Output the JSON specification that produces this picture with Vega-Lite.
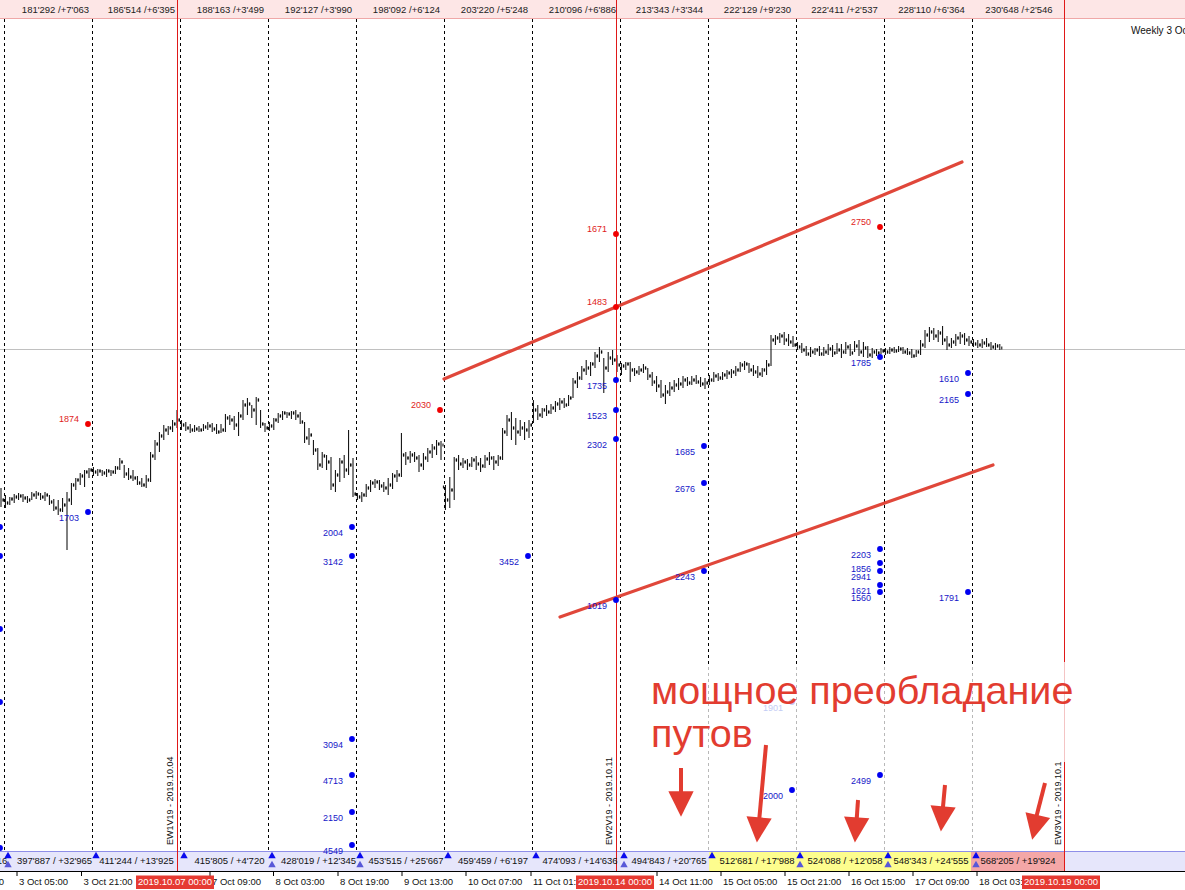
{
"$schema":"https://vega.github.io/schema/vega-lite/v6.json",
"width":1185,"height":890,"padding":0,"autosize":{"type":"none"},
"background":"#ffffff",
"config":{"view":{"stroke":null},"axis":{"disable":true},"text":{"font":"Liberation Sans"}},
"datasets":{
"bands":[
{"x":0,"x2":1185,"y":0,"y2":18.5,"kind":"top"},
{"x":0,"x2":1185,"y":851,"y2":871,"kind":"strip"},
{"x":709,"x2":971,"y":851,"y2":871,"kind":"yellow"},
{"x":971,"x2":1064,"y":851,"y2":871,"kind":"pink"}
],
"hlines":[
{"x":0,"x2":1185,"y":18.5,"kind":"topb"},
{"x":0,"x2":1185,"y":851.5,"kind":"stripb"},
{"x":0,"x2":1185,"y":871.5,"kind":"axis"},
{"x":0,"x2":1185,"y":349.5,"kind":"price"}
],
"dashed":[
{"x":4.5,"y":19,"y2":851},{"x":92.5,"y":19,"y2":851},{"x":180.5,"y":19,"y2":851},{"x":268.5,"y":19,"y2":851},
{"x":356.5,"y":19,"y2":851},{"x":444.5,"y":19,"y2":851},{"x":532.5,"y":19,"y2":851},{"x":620.5,"y":19,"y2":851},
{"x":708.5,"y":19,"y2":851},{"x":796.5,"y":19,"y2":851},{"x":884.5,"y":19,"y2":851},{"x":972.5,"y":19,"y2":851}
],
"redlines":[
{"x":177.5,"y":0,"y2":871,"kind":"main"},
{"x":616.5,"y":0,"y2":871,"kind":"main"},
{"x":1064.5,"y":0,"y2":662,"kind":"main"},
{"x":1064.5,"y":662,"y2":762,"kind":"faint"},
{"x":1064.5,"y":762,"y2":871,"kind":"main"}
],
"veil":[{"x":640,"x2":1063,"y":666,"y2":851}],
"trend":[
{"x":444,"y":379,"x2":962,"y2":162},
{"x":560,"y":617,"x2":993,"y2":465}
],
"bars":[
{"x":1,"h":488,"l":507,"o":495,"c":500},{"x":5.4,"h":495,"l":508,"o":500,"c":503},{"x":9.8,"h":497,"l":505,"o":503,"c":499},{"x":14.2,"h":494,"l":503,"o":499,"c":497},
{"x":18.6,"h":493,"l":500,"o":497,"c":496},{"x":23,"h":494,"l":502,"o":496,"c":498},{"x":27.4,"h":496,"l":503,"o":498,"c":500},{"x":31.8,"h":492,"l":500,"o":500,"c":495},
{"x":36.2,"h":491,"l":499,"o":495,"c":494},{"x":40.6,"h":493,"l":500,"o":494,"c":497},{"x":45,"h":492,"l":501,"o":497,"c":495},{"x":49.4,"h":495,"l":505,"o":495,"c":502},
{"x":53.8,"h":499,"l":511,"o":502,"c":508},{"x":58.2,"h":500,"l":515,"o":508,"c":510},{"x":62.6,"h":498,"l":512,"o":510,"c":505},{"x":67,"h":492,"l":550,"o":505,"c":500},
{"x":71.4,"h":483,"l":505,"o":500,"c":485},{"x":75.8,"h":478,"l":490,"o":485,"c":480},{"x":80.2,"h":473,"l":485,"o":480,"c":476},{"x":84.6,"h":470,"l":487,"o":476,"c":472},
{"x":89,"h":468,"l":478,"o":472,"c":470},{"x":93.4,"h":467,"l":476,"o":470,"c":472},{"x":97.8,"h":469,"l":476,"o":472,"c":471},{"x":102.2,"h":470,"l":476,"o":471,"c":473},
{"x":106.6,"h":469,"l":477,"o":473,"c":471},{"x":111,"h":470,"l":476,"o":471,"c":472},{"x":115.4,"h":466,"l":474,"o":472,"c":468},{"x":119.8,"h":458,"l":470,"o":468,"c":462},
{"x":124.2,"h":465,"l":478,"o":462,"c":474},{"x":128.6,"h":468,"l":480,"o":474,"c":477},{"x":133,"h":470,"l":481,"o":477,"c":478},{"x":137.4,"h":476,"l":485,"o":478,"c":483},
{"x":141.8,"h":478,"l":487,"o":483,"c":485},{"x":146.2,"h":475,"l":488,"o":485,"c":480},{"x":150.6,"h":452,"l":482,"o":480,"c":456},{"x":155,"h":440,"l":460,"o":456,"c":444},
{"x":159.4,"h":432,"l":452,"o":444,"c":436},{"x":163.8,"h":425,"l":440,"o":436,"c":430},{"x":168.2,"h":426,"l":435,"o":430,"c":428},{"x":172.6,"h":420,"l":432,"o":428,"c":424},
{"x":177,"h":410,"l":428,"o":424,"c":420},{"x":181.4,"h":420,"l":430,"o":420,"c":425},{"x":185.8,"h":422,"l":431,"o":425,"c":428},{"x":190.2,"h":424,"l":433,"o":428,"c":430},
{"x":194.6,"h":425,"l":432,"o":430,"c":429},{"x":199,"h":426,"l":432,"o":429,"c":430},{"x":203.4,"h":424,"l":431,"o":430,"c":427},{"x":207.8,"h":422,"l":430,"o":427,"c":426},
{"x":212.2,"h":423,"l":432,"o":426,"c":429},{"x":216.6,"h":424,"l":434,"o":429,"c":432},{"x":221,"h":424,"l":433,"o":432,"c":430},{"x":225.4,"h":414,"l":432,"o":430,"c":418},
{"x":229.8,"h":415,"l":425,"o":418,"c":420},{"x":234.2,"h":416,"l":430,"o":420,"c":425},{"x":238.6,"h":412,"l":436,"o":425,"c":416},{"x":243,"h":400,"l":420,"o":416,"c":405},
{"x":247.4,"h":398,"l":415,"o":405,"c":404},{"x":251.8,"h":405,"l":418,"o":404,"c":410},{"x":256.2,"h":397,"l":425,"o":410,"c":400},{"x":260.6,"h":410,"l":428,"o":400,"c":424},
{"x":265,"h":423,"l":432,"o":424,"c":428},{"x":269.4,"h":422,"l":431,"o":428,"c":426},{"x":273.8,"h":418,"l":430,"o":426,"c":420},{"x":278.2,"h":413,"l":423,"o":420,"c":416},
{"x":282.6,"h":411,"l":420,"o":416,"c":413},{"x":287,"h":412,"l":418,"o":413,"c":414},{"x":291.4,"h":411,"l":419,"o":414,"c":413},{"x":295.8,"h":410,"l":420,"o":413,"c":416},
{"x":300.2,"h":412,"l":424,"o":416,"c":422},{"x":304.6,"h":422,"l":443,"o":422,"c":438},{"x":309,"h":428,"l":445,"o":438,"c":435},{"x":313.4,"h":440,"l":455,"o":435,"c":450},
{"x":317.8,"h":448,"l":470,"o":450,"c":465},{"x":322.2,"h":452,"l":468,"o":465,"c":456},{"x":326.6,"h":455,"l":470,"o":456,"c":462},{"x":331,"h":457,"l":490,"o":462,"c":485},
{"x":335.4,"h":470,"l":492,"o":485,"c":475},{"x":339.8,"h":458,"l":482,"o":475,"c":462},{"x":344.2,"h":455,"l":478,"o":462,"c":470},{"x":348.6,"h":430,"l":475,"o":470,"c":465},
{"x":353,"h":458,"l":497,"o":465,"c":494},{"x":357.4,"h":493,"l":500,"o":494,"c":497},{"x":361.8,"h":492,"l":502,"o":497,"c":495},{"x":366.2,"h":484,"l":497,"o":495,"c":488},
{"x":370.6,"h":480,"l":492,"o":488,"c":483},{"x":375,"h":479,"l":488,"o":483,"c":482},{"x":379.4,"h":480,"l":490,"o":482,"c":486},{"x":383.8,"h":482,"l":492,"o":486,"c":488},
{"x":388.2,"h":478,"l":495,"o":488,"c":485},{"x":392.6,"h":473,"l":489,"o":485,"c":476},{"x":397,"h":470,"l":482,"o":476,"c":475},{"x":401.4,"h":433,"l":477,"o":475,"c":455},
{"x":405.8,"h":452,"l":465,"o":455,"c":458},{"x":410.2,"h":451,"l":463,"o":458,"c":455},{"x":414.6,"h":452,"l":462,"o":455,"c":458},{"x":419,"h":455,"l":472,"o":458,"c":465},
{"x":423.4,"h":453,"l":470,"o":465,"c":458},{"x":427.8,"h":448,"l":462,"o":458,"c":452},{"x":432.2,"h":444,"l":458,"o":452,"c":448},{"x":436.6,"h":440,"l":455,"o":448,"c":444},
{"x":441,"h":441,"l":460,"o":444,"c":445},{"x":445.4,"h":485,"l":510,"o":487,"c":500},{"x":449.8,"h":477,"l":508,"o":500,"c":490},{"x":454.2,"h":457,"l":500,"o":490,"c":460},
{"x":458.6,"h":455,"l":470,"o":460,"c":464},{"x":463,"h":458,"l":468,"o":464,"c":462},{"x":467.4,"h":459,"l":470,"o":462,"c":465},{"x":471.8,"h":457,"l":467,"o":465,"c":460},
{"x":476.2,"h":456,"l":470,"o":460,"c":464},{"x":480.6,"h":458,"l":472,"o":464,"c":466},{"x":485,"h":455,"l":468,"o":466,"c":459},{"x":489.4,"h":452,"l":465,"o":459,"c":458},
{"x":493.8,"h":456,"l":470,"o":458,"c":462},{"x":498.2,"h":455,"l":466,"o":462,"c":458},{"x":502.6,"h":428,"l":460,"o":458,"c":432},{"x":507,"h":415,"l":436,"o":432,"c":420},
{"x":511.4,"h":412,"l":440,"o":420,"c":428},{"x":515.8,"h":418,"l":445,"o":428,"c":432},{"x":520.2,"h":420,"l":436,"o":432,"c":428},{"x":524.6,"h":422,"l":440,"o":428,"c":430},
{"x":529,"h":420,"l":438,"o":430,"c":425},{"x":533.4,"h":400,"l":423,"o":425,"c":410},{"x":537.8,"h":405,"l":420,"o":410,"c":415},{"x":542.2,"h":408,"l":418,"o":415,"c":410},
{"x":546.6,"h":405,"l":416,"o":410,"c":412},{"x":551,"h":404,"l":414,"o":412,"c":408},{"x":555.4,"h":401,"l":412,"o":408,"c":404},{"x":559.8,"h":398,"l":410,"o":404,"c":402},
{"x":564.2,"h":398,"l":408,"o":402,"c":405},{"x":568.6,"h":395,"l":406,"o":405,"c":398},{"x":573,"h":378,"l":398,"o":398,"c":382},{"x":577.4,"h":372,"l":388,"o":382,"c":378},
{"x":581.8,"h":366,"l":380,"o":378,"c":370},{"x":586.2,"h":360,"l":375,"o":370,"c":368},{"x":590.6,"h":362,"l":376,"o":368,"c":364},{"x":595,"h":352,"l":368,"o":364,"c":356},
{"x":599.4,"h":347,"l":362,"o":356,"c":352},{"x":603.8,"h":358,"l":393,"o":352,"c":368},{"x":608.2,"h":352,"l":372,"o":368,"c":358},{"x":612.6,"h":350,"l":365,"o":358,"c":360},
{"x":617,"h":355,"l":372,"o":360,"c":365},{"x":621.4,"h":363,"l":375,"o":365,"c":366},{"x":625.8,"h":362,"l":370,"o":366,"c":364},{"x":630.2,"h":362,"l":382,"o":364,"c":370},
{"x":634.6,"h":368,"l":376,"o":370,"c":372},{"x":639,"h":366,"l":375,"o":372,"c":370},{"x":643.4,"h":364,"l":373,"o":370,"c":368},{"x":647.8,"h":368,"l":380,"o":368,"c":376},
{"x":652.2,"h":372,"l":386,"o":376,"c":382},{"x":656.6,"h":376,"l":392,"o":382,"c":386},{"x":661,"h":380,"l":398,"o":386,"c":395},{"x":665.4,"h":385,"l":404,"o":395,"c":392},
{"x":669.8,"h":382,"l":396,"o":392,"c":388},{"x":674.2,"h":380,"l":392,"o":388,"c":385},{"x":678.6,"h":378,"l":390,"o":385,"c":384},{"x":683,"h":376,"l":388,"o":384,"c":380},
{"x":687.4,"h":377,"l":386,"o":380,"c":383},{"x":691.8,"h":376,"l":385,"o":383,"c":380},{"x":696.2,"h":375,"l":384,"o":380,"c":382},{"x":700.6,"h":377,"l":387,"o":382,"c":384},
{"x":705,"h":378,"l":389,"o":384,"c":383},{"x":709.4,"h":375,"l":385,"o":383,"c":380},{"x":713.8,"h":372,"l":382,"o":380,"c":376},{"x":718.2,"h":373,"l":381,"o":376,"c":378},
{"x":722.6,"h":372,"l":380,"o":378,"c":375},{"x":727,"h":370,"l":379,"o":375,"c":373},{"x":731.4,"h":369,"l":378,"o":373,"c":372},{"x":735.8,"h":366,"l":376,"o":372,"c":370},
{"x":740.2,"h":362,"l":372,"o":370,"c":365},{"x":744.6,"h":361,"l":370,"o":365,"c":364},{"x":749,"h":363,"l":373,"o":364,"c":370},{"x":753.4,"h":365,"l":376,"o":370,"c":372},
{"x":757.8,"h":366,"l":378,"o":372,"c":374},{"x":762.2,"h":368,"l":377,"o":374,"c":370},{"x":766.6,"h":360,"l":375,"o":370,"c":365},{"x":771,"h":335,"l":366,"o":365,"c":340},
{"x":775.4,"h":335,"l":345,"o":340,"c":338},{"x":779.8,"h":333,"l":343,"o":338,"c":336},{"x":784.2,"h":332,"l":345,"o":336,"c":340},{"x":788.6,"h":334,"l":346,"o":340,"c":342},
{"x":793,"h":336,"l":347,"o":342,"c":345},{"x":797.4,"h":342,"l":350,"o":345,"c":347},{"x":801.8,"h":343,"l":353,"o":347,"c":350},{"x":806.2,"h":346,"l":356,"o":350,"c":354},
{"x":810.6,"h":347,"l":357,"o":354,"c":352},{"x":815,"h":348,"l":355,"o":352,"c":350},{"x":819.4,"h":346,"l":356,"o":350,"c":354},{"x":823.8,"h":347,"l":356,"o":354,"c":352},
{"x":828.2,"h":344,"l":355,"o":352,"c":349},{"x":832.6,"h":345,"l":357,"o":349,"c":353},{"x":837,"h":343,"l":354,"o":353,"c":350},{"x":841.4,"h":344,"l":358,"o":350,"c":352},
{"x":845.8,"h":342,"l":354,"o":352,"c":347},{"x":850.2,"h":344,"l":356,"o":347,"c":353},{"x":854.6,"h":341,"l":352,"o":353,"c":346},{"x":859,"h":340,"l":356,"o":346,"c":352},
{"x":863.4,"h":342,"l":357,"o":352,"c":348},{"x":867.8,"h":346,"l":358,"o":348,"c":355},{"x":872.2,"h":348,"l":358,"o":355,"c":352},{"x":876.6,"h":349,"l":356,"o":352,"c":353},
{"x":881,"h":348,"l":354,"o":353,"c":351},{"x":885.4,"h":348,"l":355,"o":351,"c":352},{"x":889.8,"h":347,"l":354,"o":352,"c":350},{"x":894.2,"h":347,"l":353,"o":350,"c":351},
{"x":898.6,"h":346,"l":352,"o":351,"c":349},{"x":903,"h":347,"l":354,"o":349,"c":352},{"x":907.4,"h":348,"l":355,"o":352,"c":353},{"x":911.8,"h":349,"l":358,"o":353,"c":356},
{"x":916.2,"h":350,"l":357,"o":356,"c":352},{"x":920.6,"h":340,"l":355,"o":352,"c":345},{"x":925,"h":330,"l":348,"o":345,"c":335},{"x":929.4,"h":327,"l":342,"o":335,"c":332},
{"x":933.8,"h":328,"l":340,"o":332,"c":336},{"x":938.2,"h":330,"l":342,"o":336,"c":333},{"x":942.6,"h":326,"l":345,"o":333,"c":340},{"x":947,"h":336,"l":350,"o":340,"c":345},
{"x":951.4,"h":338,"l":348,"o":345,"c":342},{"x":955.8,"h":334,"l":346,"o":342,"c":338},{"x":960.2,"h":332,"l":344,"o":338,"c":336},{"x":964.6,"h":333,"l":345,"o":336,"c":340},
{"x":969,"h":336,"l":346,"o":340,"c":342},{"x":973.4,"h":339,"l":347,"o":342,"c":344},{"x":977.8,"h":340,"l":348,"o":344,"c":345},{"x":982.2,"h":339,"l":348,"o":345,"c":343},
{"x":986.6,"h":338,"l":347,"o":343,"c":345},{"x":991,"h":342,"l":350,"o":345,"c":347},{"x":995.4,"h":343,"l":350,"o":347,"c":346},{"x":999.8,"h":344,"l":350,"o":346,"c":348}
],
"dots":[
{"x":88,"y":424,"v":"1874","side":"call"},{"x":440,"y":410,"v":"2030","side":"call"},{"x":616,"y":234,"v":"1671","side":"call"},{"x":616,"y":307,"v":"1483","side":"call"},{"x":880,"y":227,"v":"2750","side":"call"},
{"x":0,"y":527,"v":"","side":"put"},{"x":0,"y":556,"v":"","side":"put"},{"x":0,"y":629,"v":"","side":"put"},{"x":0,"y":702,"v":"","side":"put"},{"x":0,"y":848,"v":"","side":"put"},
{"x":88,"y":512,"v":"1703","side":"put"},
{"x":352,"y":527,"v":"2004","side":"put"},{"x":352,"y":556,"v":"3142","side":"put"},{"x":352,"y":739,"v":"3094","side":"put"},{"x":352,"y":775,"v":"4713","side":"put"},{"x":352,"y":812,"v":"2150","side":"put"},{"x":352,"y":845,"v":"4549","side":"put"},
{"x":528,"y":556,"v":"3452","side":"put"},
{"x":616,"y":380,"v":"1735","side":"put"},{"x":616,"y":410,"v":"1523","side":"put"},{"x":616,"y":439,"v":"2302","side":"put"},{"x":616,"y":600,"v":"1019","side":"put"},
{"x":704,"y":446,"v":"1685","side":"put"},{"x":704,"y":483,"v":"2676","side":"put"},{"x":704,"y":571,"v":"2243","side":"put"},
{"x":792,"y":790,"v":"2000","side":"put"},
{"x":880,"y":357,"v":"1785","side":"put"},{"x":880,"y":549,"v":"2203","side":"put"},{"x":880,"y":563,"v":"1856","side":"put"},{"x":880,"y":571,"v":"2941","side":"put"},{"x":880,"y":585,"v":"1621","side":"put"},{"x":880,"y":592,"v":"1560","side":"put"},{"x":880,"y":775,"v":"2499","side":"put"},
{"x":968,"y":373,"v":"1610","side":"put"},{"x":968,"y":394,"v":"2165","side":"put"},{"x":968,"y":592,"v":"1791","side":"put"},
{"x":792,"y":702,"v":"1901","side":"faded"}
],
"toplabels":[
{"x":55.5,"y":9.5,"txt":"181'292 /+7'063"},{"x":141.5,"y":9.5,"txt":"186'514 /+6'395"},{"x":230.5,"y":9.5,"txt":"188'163 /+3'499"},
{"x":318.5,"y":9.5,"txt":"192'127 /+3'990"},{"x":406.5,"y":9.5,"txt":"198'092 /+6'124"},{"x":494.5,"y":9.5,"txt":"203'220 /+5'248"},
{"x":582.5,"y":9.5,"txt":"210'096 /+6'886"},{"x":669.5,"y":9.5,"txt":"213'343 /+3'344"},{"x":757.5,"y":9.5,"txt":"222'129 /+9'230"},
{"x":844.5,"y":9.5,"txt":"222'411 /+2'537"},{"x":931.5,"y":9.5,"txt":"228'110 /+6'364"},{"x":1019,"y":9.5,"txt":"230'648 /+2'546"}
],
"striplabels":[
{"x":-30,"y":861,"txt":"383'402 / +21'116"},
{"x":54.5,"y":861,"txt":"397'887 / +32'965"},{"x":136.5,"y":861,"txt":"411'244 / +13'925"},{"x":229.5,"y":861,"txt":"415'805 / +4'720"},
{"x":318.5,"y":861,"txt":"428'019 / +12'345"},{"x":406,"y":861,"txt":"453'515 / +25'667"},{"x":493,"y":861,"txt":"459'459 / +6'197"},
{"x":580,"y":861,"txt":"474'093 / +14'636"},{"x":669,"y":861,"txt":"494'843 / +20'765"},{"x":757,"y":861,"txt":"512'681 / +17'988"},
{"x":845,"y":861,"txt":"524'088 / +12'058"},{"x":931,"y":861,"txt":"548'343 / +24'555"},{"x":1018,"y":861,"txt":"568'205 / +19'924"}
],
"icons":[
{"x":8,"y":855,"k":"a"},{"x":8,"y":864,"k":"b"},{"x":96,"y":855,"k":"a"},{"x":184,"y":855,"k":"a"},{"x":272,"y":855,"k":"a"},{"x":272,"y":864,"k":"b"},
{"x":360,"y":855,"k":"a"},{"x":360,"y":864,"k":"b"},{"x":448,"y":855,"k":"a"},{"x":536,"y":855,"k":"a"},{"x":624,"y":855,"k":"a"},{"x":624,"y":864,"k":"b"},
{"x":712,"y":855,"k":"a"},{"x":800,"y":855,"k":"a"},{"x":800,"y":864,"k":"b"},{"x":888,"y":855,"k":"a"},{"x":888,"y":864,"k":"b"},{"x":976,"y":855,"k":"a"},{"x":976,"y":864,"k":"b"}
],
"ticks":[
{"x":17,"y":872,"y2":876},{"x":81.5,"y":872,"y2":876},{"x":210,"y":872,"y2":876},{"x":273.5,"y":872,"y2":876},{"x":338,"y":872,"y2":876},
{"x":402,"y":872,"y2":876},{"x":466,"y":872,"y2":876},{"x":531,"y":872,"y2":876},{"x":657,"y":872,"y2":876},{"x":721,"y":872,"y2":876},
{"x":785,"y":872,"y2":876},{"x":849,"y":872,"y2":876},{"x":913,"y":872,"y2":876},{"x":977,"y":872,"y2":876}
],
"timelabels":[
{"x":-45,"y":882,"txt":"2 Oct 13:00"},{"x":19,"y":882,"txt":"3 Oct 05:00"},{"x":83.5,"y":882,"txt":"3 Oct 21:00"},{"x":212,"y":882,"txt":"7 Oct 09:00"},
{"x":275.5,"y":882,"txt":"8 Oct 03:00"},{"x":340,"y":882,"txt":"8 Oct 19:00"},{"x":404,"y":882,"txt":"9 Oct 13:00"},{"x":468,"y":882,"txt":"10 Oct 07:00"},
{"x":533,"y":882,"txt":"11 Oct 01:00"},{"x":659,"y":882,"txt":"14 Oct 11:00"},{"x":723,"y":882,"txt":"15 Oct 05:00"},{"x":787,"y":882,"txt":"15 Oct 21:00"},
{"x":851,"y":882,"txt":"16 Oct 15:00"},{"x":915,"y":882,"txt":"17 Oct 09:00"},{"x":979,"y":882,"txt":"18 Oct 03:00"}
],
"weeks":[
{"x":136,"x2":214,"xc":175,"y":875.5,"y2":889,"yc":882,"txt":"2019.10.07 00:00"},
{"x":576,"x2":654,"xc":615,"y":875.5,"y2":889,"yc":882,"txt":"2019.10.14 00:00"},
{"x":1022,"x2":1100,"xc":1061,"y":875.5,"y2":889,"yc":882,"txt":"2019.10.19 00:00"}
],
"ew":[
{"x":170,"y":845,"txt":"EW1V19 - 2019.10.04"},
{"x":609,"y":845,"txt":"EW2V19 - 2019.10.11"},
{"x":1058,"y":845,"txt":"EW3V19 - 2019.10.1"}
],
"note":[
{"x":651,"y":704,"txt":"мощное преобладание"},
{"x":651,"y":747,"txt":"путов"}
],
"shafts":[
{"x":681,"y":768,"x2":681,"y2":798},
{"x":766,"y":745,"x2":759,"y2":822},
{"x":858,"y":800,"x2":856.5,"y2":822},
{"x":945,"y":785,"x2":942.5,"y2":812},
{"x":1045,"y":783,"x2":1036,"y2":818}
],
"heads":[
{"x":681,"y":804,"a":0},
{"x":758,"y":830,"a":5},
{"x":855.8,"y":830,"a":4},
{"x":942,"y":819,"a":5},
{"x":1035,"y":827.5,"a":13}
],
"weekly":[{"x":1131,"y":31,"txt":"Weekly 3 Oct 2019"}]
},
"encoding":{
"x":{"field":"x","type":"quantitative","scale":{"domain":[0,1185],"nice":false,"zero":false},"axis":null},
"y":{"field":"y","type":"quantitative","scale":{"domain":[0,890],"reverse":true,"nice":false,"zero":false},"axis":null}
},
"layer":[
{"data":{"name":"bands"},"transform":[{"filter":"datum.kind === 'top'"}],"mark":{"type":"rect","color":"#fde6e6"},
 "encoding":{"x2":{"field":"x2"},"y2":{"field":"y2"}}},
{"data":{"name":"bands"},"transform":[{"filter":"datum.kind === 'strip'"}],"mark":{"type":"rect","color":"#e6e6fb"},
 "encoding":{"x2":{"field":"x2"},"y2":{"field":"y2"}}},
{"data":{"name":"bands"},"transform":[{"filter":"datum.kind === 'yellow'"}],"mark":{"type":"rect","color":"#fdfd8e"},
 "encoding":{"x2":{"field":"x2"},"y2":{"field":"y2"}}},
{"data":{"name":"bands"},"transform":[{"filter":"datum.kind === 'pink'"}],"mark":{"type":"rect","color":"#f4a7a7"},
 "encoding":{"x2":{"field":"x2"},"y2":{"field":"y2"}}},
{"data":{"name":"hlines"},"transform":[{"filter":"datum.kind === 'topb'"}],"mark":{"type":"rule","strokeWidth":1,"color":"#f0a8a8"},
 "encoding":{"x2":{"field":"x2"}}},
{"data":{"name":"hlines"},"transform":[{"filter":"datum.kind === 'stripb'"}],"mark":{"type":"rule","strokeWidth":1,"color":"#8e8ee8"},
 "encoding":{"x2":{"field":"x2"}}},
{"data":{"name":"hlines"},"transform":[{"filter":"datum.kind === 'axis'"}],"mark":{"type":"rule","strokeWidth":1,"color":"#000000"},
 "encoding":{"x2":{"field":"x2"}}},
{"data":{"name":"hlines"},"transform":[{"filter":"datum.kind === 'price'"}],"mark":{"type":"rule","strokeWidth":1,"color":"#c0c0c0"},
 "encoding":{"x2":{"field":"x2"}}},
{"data":{"name":"dashed"},"mark":{"type":"rule","color":"#000000","strokeWidth":1,"strokeDash":[3,3]},
 "encoding":{"y2":{"field":"y2"}}},
{"data":{"name":"bars"},"mark":{"type":"rule","color":"#000000","strokeWidth":1},
 "encoding":{"y":{"field":"h","type":"quantitative","scale":{"domain":[0,890],"reverse":true,"nice":false,"zero":false},"axis":null},"y2":{"field":"l"}}},
{"data":{"name":"bars"},"mark":{"type":"tick","orient":"vertical","color":"#000000","size":3,"thickness":1,"xOffset":-2,"opacity":1},
 "encoding":{"y":{"field":"o","type":"quantitative","scale":{"domain":[0,890],"reverse":true,"nice":false,"zero":false},"axis":null}}},
{"data":{"name":"bars"},"mark":{"type":"tick","orient":"vertical","color":"#000000","size":3,"thickness":1,"xOffset":2,"opacity":1},
 "encoding":{"y":{"field":"c","type":"quantitative","scale":{"domain":[0,890],"reverse":true,"nice":false,"zero":false},"axis":null}}},
{"data":{"name":"veil"},"mark":{"type":"rect","color":"#ffffff","opacity":0.72},
 "encoding":{"x2":{"field":"x2"},"y2":{"field":"y2"}}},
{"data":{"name":"redlines"},"transform":[{"filter":"datum.kind === 'main'"}],"mark":{"type":"rule","strokeWidth":1,"color":"#e01818"},
 "encoding":{"y2":{"field":"y2"}}},
{"data":{"name":"redlines"},"transform":[{"filter":"datum.kind === 'faint'"}],"mark":{"type":"rule","strokeWidth":1,"color":"#f4c4c4"},
 "encoding":{"y2":{"field":"y2"}}},
{"data":{"name":"trend"},"mark":{"type":"rule","color":"#e0473a","strokeWidth":3.2,"strokeCap":"round"},
 "encoding":{"x2":{"field":"x2"},"y2":{"field":"y2"}}},
{"data":{"name":"dots"},"transform":[{"filter":"datum.side === 'call'"}],"mark":{"type":"circle","size":34,"opacity":1,"color":"#f00000"}},
{"data":{"name":"dots"},"transform":[{"filter":"datum.side === 'put'"}],"mark":{"type":"circle","size":34,"opacity":1,"color":"#0000f0"}},
{"data":{"name":"dots"},"transform":[{"filter":"datum.side === 'faded'"}],"mark":{"type":"circle","size":34,"opacity":1,"color":"#c4ccf4"}},
{"data":{"name":"dots"},"transform":[{"filter":"datum.side === 'call'"}],
 "mark":{"type":"text","align":"right","baseline":"middle","dx":-9,"dy":-5,"fontSize":9,"color":"#e01c1c"},
 "encoding":{"text":{"field":"v"}}},
{"data":{"name":"dots"},"transform":[{"filter":"datum.side === 'put'"}],
 "mark":{"type":"text","align":"right","baseline":"middle","dx":-9,"dy":6,"fontSize":9,"color":"#1616c8"},
 "encoding":{"text":{"field":"v"}}},
{"data":{"name":"dots"},"transform":[{"filter":"datum.side === 'faded'"}],
 "mark":{"type":"text","align":"right","baseline":"middle","dx":-9,"dy":6,"fontSize":9,"color":"#c4ccf4"},
 "encoding":{"text":{"field":"v"}}},
{"data":{"name":"toplabels"},"mark":{"type":"text","fontSize":9.5,"color":"#222222","baseline":"middle"},
 "encoding":{"text":{"field":"txt"}}},
{"data":{"name":"striplabels"},"mark":{"type":"text","fontSize":9.5,"color":"#111111","baseline":"middle"},
 "encoding":{"text":{"field":"txt"}}},
{"data":{"name":"icons"},"transform":[{"filter":"datum.k === 'a'"}],"mark":{"type":"point","shape":"triangle-up","filled":true,"size":55,"opacity":1,"color":"#0a0aee"}},
{"data":{"name":"icons"},"transform":[{"filter":"datum.k === 'b'"}],"mark":{"type":"point","shape":"triangle-up","filled":true,"size":55,"opacity":1,"color":"#5858d8"}},
{"data":{"name":"ticks"},"mark":{"type":"rule","color":"#000000","strokeWidth":1},
 "encoding":{"y2":{"field":"y2"}}},
{"data":{"name":"timelabels"},"mark":{"type":"text","fontSize":9.5,"color":"#111111","align":"left","baseline":"middle"},
 "encoding":{"text":{"field":"txt"}}},
{"data":{"name":"weeks"},"mark":{"type":"rect","color":"#e63a32"},
 "encoding":{"x2":{"field":"x2"},"y2":{"field":"y2"}}},
{"data":{"name":"weeks"},"mark":{"type":"text","fontSize":9.5,"color":"#ffffff","baseline":"middle"},
 "encoding":{"x":{"field":"xc","type":"quantitative","scale":{"domain":[0,1185],"nice":false,"zero":false},"axis":null},
  "y":{"field":"yc","type":"quantitative","scale":{"domain":[0,890],"reverse":true,"nice":false,"zero":false},"axis":null},
  "text":{"field":"txt"}}},
{"data":{"name":"ew"},"mark":{"type":"text","fontSize":9,"color":"#111111","angle":270,"align":"left","baseline":"middle"},
 "encoding":{"text":{"field":"txt"}}},
{"data":{"name":"note"},"mark":{"type":"text","fontSize":39.5,"color":"#e23c30","align":"left","baseline":"alphabetic"},
 "encoding":{"text":{"field":"txt"}}},
{"data":{"name":"shafts"},"mark":{"type":"rule","color":"#e23c30","strokeWidth":4},
 "encoding":{"x2":{"field":"x2"},"y2":{"field":"y2"}}},
{"data":{"name":"heads"},"mark":{"type":"point","shape":"M-1,-1L1,-1L0,1Z","filled":true,"size":640,"opacity":1,"color":"#e23c30"},
 "encoding":{"angle":{"field":"a","type":"quantitative","scale":null}}},
{"data":{"name":"weekly"},"mark":{"type":"text","fontSize":10,"color":"#111111","align":"left","baseline":"middle"},
 "encoding":{"text":{"field":"txt"}}}
]
}
